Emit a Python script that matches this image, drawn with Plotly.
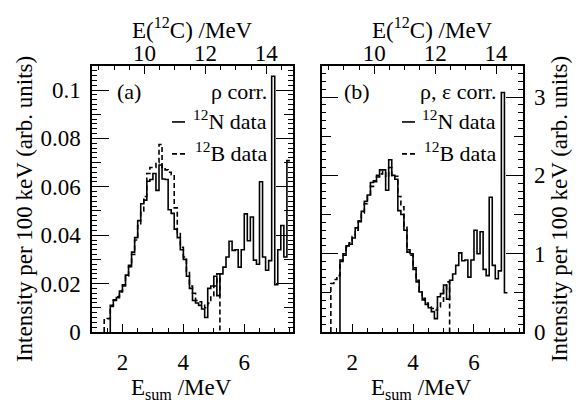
import plotly.graph_objects as go

# ---------------- data ----------------
BIN_W = 0.1                 # MeV, histogram bin width
Q_3ALPHA = 7.275            # E(12C) = E_sum + 7.275 MeV

# panel (a): rho corrected
n_a_start = 1.6
n_a = [0.0105, 0.0133, 0.0142, 0.0169, 0.0195, 0.0235, 0.0275, 0.0330, 0.0390, 0.0460,
       0.0530, 0.0545, 0.0623, 0.0630, 0.0655, 0.0585, 0.0690, 0.0632, 0.0630, 0.0505,
       0.0490, 0.0425, 0.0390, 0.0340, 0.0300, 0.0230, 0.0180, 0.0130, 0.0120, 0.0110,
       0.0095, 0.0060, 0.0180, 0.0190, 0.0230, 0.0150, 0.0240, 0.0268, 0.0310, 0.0375,
       0.0337, 0.0340, 0.0268, 0.0340, 0.0488, 0.0377, 0.0475, 0.0297, 0.0280, 0.0621,
       0.0310, 0.0255, 0.0295, 0.1057, 0.0195, 0.0340, 0.0440, 0.0310, 0.0708]
b_a_start = 1.4
b_a = [0.0050, 0.0055, 0.0110, 0.0130, 0.0145, 0.0165, 0.0190, 0.0230, 0.0270, 0.0320,
       0.0380, 0.0440, 0.0500, 0.0560, 0.0655, 0.0680, 0.0680, 0.0700, 0.0775, 0.0680,
       0.0670, 0.0660, 0.0650, 0.0513, 0.0410, 0.0350, 0.0310, 0.0250, 0.0190, 0.0160,
       0.0130, 0.0125, 0.0115, 0.0100, 0.0120, 0.0150, 0.0190, 0.0240]

# panel (b): rho and efficiency corrected
n_b_start = 1.6
n_b = [0.92, 0.98, 1.10, 1.12, 1.20, 1.33, 1.41, 1.54, 1.67, 1.75,
       1.91, 1.93, 2.00, 2.07, 2.07, 1.81, 2.20, 2.00, 1.95, 1.55,
       1.50, 1.30, 1.02, 1.00, 0.80, 0.64, 0.51, 0.41, 0.35, 0.31,
       0.26, 0.17, 0.45, 0.49, 0.60, 0.42, 0.66, 0.74, 0.85, 1.01,
       0.91, 0.92, 0.70, 0.92, 1.30, 1.00, 1.28, 0.80, 0.72, 1.72,
       0.85, 0.68, 0.78, 3.06, 0.50]
b_b_start = 1.3
b_b = [0.62, 0.67, 0.72, 0.90, 1.00, 1.08, 1.14, 1.22, 1.30, 1.42,
       1.52, 1.64, 1.74, 1.86, 1.92, 1.98, 2.02, 2.05, 1.98, 2.10,
       1.98, 1.99, 1.73, 1.60, 1.35, 1.05, 0.98, 0.82, 0.66, 0.52,
       0.43, 0.37, 0.33, 0.30, 0.28, 0.32, 0.37, 0.55, 0.64]

x_range = [1.0, 7.6]
ya_range = [0, 0.11]
yb_range = [0, 3.4]
x_major_ticks = [2, 4, 6]
top_major_ticks = [10, 12, 14]

FONT = "'Liberation Serif', 'Times New Roman', Times, 'DejaVu Serif', serif"
W, H = 582, 404


def steps(start, vals, close_end):
    xs, ys = [start], [0.0]
    for i, v in enumerate(vals):
        xs.append(round(start + i * BIN_W, 3))
        ys.append(v)
    end = round(start + len(vals) * BIN_W, 3)
    xs.append(end)
    ys.append(vals[-1])
    if close_end:
        xs.append(end)
        ys.append(0.0)
    return xs, ys


def px(x):
    return x / W


def py(y):
    return 1 - y / H


fig = go.Figure()
LW = 1.6
DASH = "5px,3px"

for (start, vals, close, dash, xa, ya, name) in [
    (n_a_start, n_a, False, "solid", "x", "y", "12N a"),
    (b_a_start, b_a, True, DASH, "x", "y", "12B a"),
    (n_b_start, n_b, False, "solid", "x3", "y4", "12N b"),
    (b_b_start, b_b, True, DASH, "x3", "y4", "12B b"),
]:
    xs, ys = steps(start, vals, close)
    fig.add_trace(go.Scatter(x=xs, y=ys, mode="lines", line_shape="hv",
                             line=dict(color="black", width=LW, dash=dash),
                             xaxis=xa, yaxis=ya, showlegend=False, name=name,
                             hoverinfo="skip"))

# empty traces so that overlay axes are drawn
for xa, ya in [("x2", "y"), ("x", "y3"), ("x4", "y4"), ("x3", "y5")]:
    fig.add_trace(go.Scatter(x=[None], y=[None], xaxis=xa, yaxis=ya,
                             showlegend=False, hoverinfo="skip"))

tickfont = dict(family=FONT, size=23, color="black")
dom_a = [px(92), px(293)]
dom_b = [px(321.7), px(522.7)]
dom_y = [py(343), py(68)]

common_x = dict(showgrid=False, zeroline=False, ticks="inside", ticklen=8, tickwidth=1.2,
                tickcolor="black", tickfont=tickfont,
                minor=dict(dtick=0.5, tick0=0, ticks="inside", ticklen=4, tickwidth=1,
                           tickcolor="black", showgrid=False))
x_top_range = [x_range[0] + Q_3ALPHA, x_range[1] + Q_3ALPHA]

fig.update_layout(
    width=W, height=H, margin=dict(l=0, r=0, t=0, b=0),
    paper_bgcolor="white", plot_bgcolor="white", showlegend=False,
    font=dict(family=FONT, color="black"),
    xaxis=dict(domain=dom_a, range=x_range, anchor="y", tickvals=x_major_ticks,
               showline=True, linewidth=1.5, linecolor="black", mirror=True,
               ticklabelstandoff=9, **common_x),
    xaxis2=dict(overlaying="x", side="top", anchor="y", range=x_top_range,
                tickvals=top_major_ticks, showline=False, ticklabelstandoff=-1, **common_x),
    xaxis3=dict(domain=dom_b, range=x_range, anchor="y4", tickvals=x_major_ticks,
                showline=True, linewidth=1.5, linecolor="black", mirror=True,
                ticklabelstandoff=9, **common_x),
    xaxis4=dict(overlaying="x3", side="top", anchor="y4", range=x_top_range,
                tickvals=top_major_ticks, showline=False, ticklabelstandoff=-1, **common_x),
    yaxis=dict(domain=dom_y, range=ya_range, anchor="x", dtick=0.02, tick0=0,
               showgrid=False, zeroline=False, showline=True, linewidth=1.5,
               linecolor="black", mirror="ticks", ticks="inside", ticklen=17,
               tickwidth=1.2, tickcolor="black", tickfont=tickfont, ticklabelstandoff=5,
               minor=dict(dtick=0.002, tick0=0, ticks="inside", ticklen=5, tickwidth=1,
                          tickcolor="black", showgrid=False)),
    yaxis3=dict(overlaying="y", anchor="x", side="left", range=ya_range, dtick=0.01,
                tick0=0, showgrid=False, zeroline=False, showline=False,
                mirror="ticks", ticks="inside", ticklen=9, tickwidth=1,
                tickcolor="black", showticklabels=False),
    yaxis4=dict(domain=dom_y, range=yb_range, anchor="x3", side="right", dtick=1, tick0=0,
                showgrid=False, zeroline=False, showline=True, linewidth=1.5,
                linecolor="black", mirror="ticks", ticks="inside", ticklen=17,
                tickwidth=1.2, tickcolor="black", tickfont=tickfont, ticklabelstandoff=5,
                minor=dict(dtick=0.1, tick0=0, ticks="inside", ticklen=5, tickwidth=1,
                           tickcolor="black", showgrid=False)),
    yaxis5=dict(overlaying="y4", anchor="x3", side="right", range=yb_range, dtick=0.5,
                tick0=0, showgrid=False, zeroline=False, showline=False,
                mirror="ticks", ticks="inside", ticklen=9, tickwidth=1,
                tickcolor="black", showticklabels=False),
)

ann = []


def A(text, x, y, xanchor="center", yanchor="middle", angle=0, size=22):
    ann.append(dict(text=text, x=px(x), y=py(y), xref="paper", yref="paper",
                    xanchor=xanchor, yanchor=yanchor, showarrow=False, textangle=angle,
                    font=dict(family=FONT, size=size, color="black")))


# axis titles
A("E(<sup>12</sup>C) /MeV", 192.5, 29, size=23)
A("E(<sup>12</sup>C) /MeV", 432, 29, size=23)
A("E<sub>sum</sub> /MeV", 181, 402, size=23)
A("E<sub>sum</sub> /MeV", 421, 402, size=23)
A("Intensity per 100 keV (arb. units)", 24, 216, angle=-90, size=23)
A("Intensity per 100 keV (arb. units)", 559, 216, angle=-90, size=23)

# panel labels / legends
A("(a)", 115, 95, xanchor="left")
A("(b)", 342, 95, xanchor="left")
A("ρ corr.", 269, 95, xanchor="right")
A("ρ, ε corr.", 498, 95, xanchor="right")
A("<sup>12</sup>N data", 269, 124, xanchor="right")
A("<sup>12</sup>B data", 269, 157, xanchor="right")
A("<sup>12</sup>N data", 498, 124, xanchor="right")
A("<sup>12</sup>B data", 498, 157, xanchor="right")

shapes = []
for x0, x1 in [(172, 185), (402, 415)]:
    shapes.append(dict(type="line", xref="paper", yref="paper", x0=px(x0), x1=px(x1),
                       y0=py(126), y1=py(126), line=dict(color="black", width=LW)))
    shapes.append(dict(type="line", xref="paper", yref="paper", x0=px(x0), x1=px(x1 + 2),
                       y0=py(159), y1=py(159),
                       line=dict(color="black", width=LW, dash=DASH)))

fig.update_layout(annotations=ann, shapes=shapes)
fig.write_html("out.html")
